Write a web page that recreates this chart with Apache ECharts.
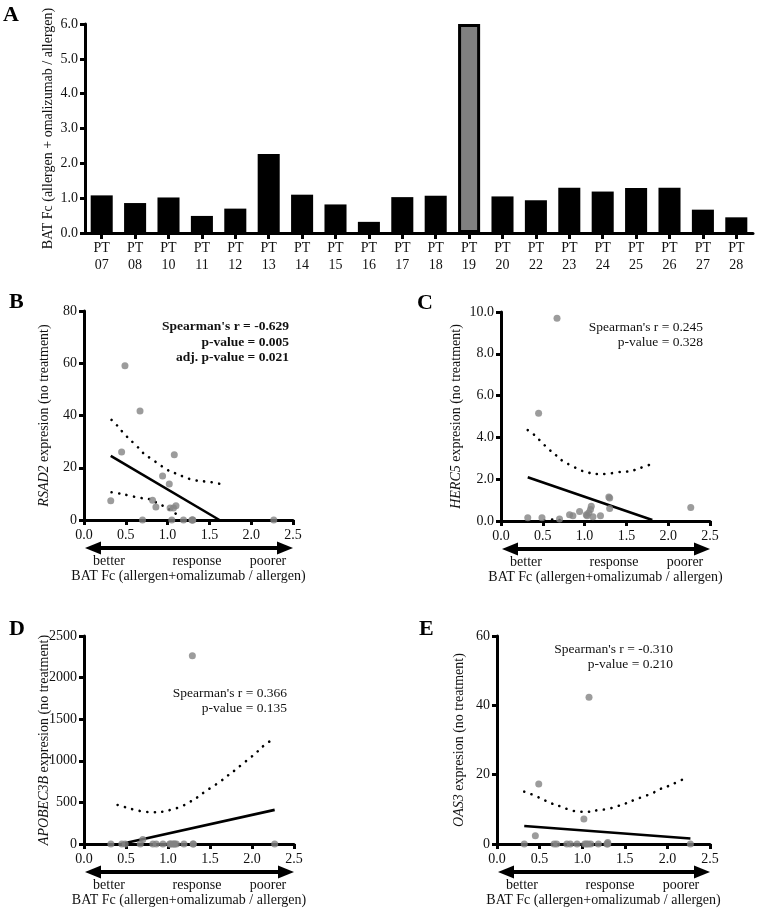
<!DOCTYPE html>
<html>
<head>
<meta charset="utf-8">
<script src="https://cdn.jsdelivr.net/npm/echarts@6/dist/echarts.min.js"></script>
<style>
html,body{margin:0;padding:0;background:#fff;}
#chart{width:759px;height:908px;}
</style>
</head>
<body>
<div id="chart"></div>
<script>
// ---------- DATA ----------
const patients = ['PT\n07','PT\n08','PT\n10','PT\n11','PT\n12','PT\n13','PT\n14','PT\n15','PT\n16','PT\n17','PT\n18','PT\n19','PT\n20','PT\n22','PT\n23','PT\n24','PT\n25','PT\n26','PT\n27','PT\n28'];
const batFc = [1.08,0.86,1.02,0.49,0.70,2.27,1.10,0.82,0.32,1.03,1.07,6.0,1.05,0.94,1.30,1.19,1.29,1.30,0.67,0.45];
const highlightPatient = 'PT\n19';

// scatter x values (all patients except PT19), same order as the expression arrays
const scatterX = [1.08,0.86,1.02,0.49,0.70,2.27,1.10,0.82,0.32,1.03,1.07,1.05,0.94,1.30,1.19,1.29,1.30,0.67,0.45];
const rsad2    = [25,5,13.8,59,0,0,5.5,7.6,7.4,4.6,4.6,0,16.8,0,0,0,0,41.7,26];
const herc5    = [0.7,0.25,0.3,0.15,0.1,0.65,0.2,0.3,0.15,0.25,0.55,0.4,0.45,0.6,0.25,1.15,1.1,9.7,5.15];
const apobec3b = [0,0,0,0,55,0,0,0,0,0,0,0,0,0,0,2263,0,0,0];
const oas3     = [42.3,0,7.2,17.3,0,0,0,0,0,0,0,0,0,0.4,0,0,0,0,2.4];

// regression lines (fit endpoints as drawn, clipped at 0)
const fitB = [[0.32,24.5],[1.62,0]];
const fitC = [[0.32,2.09],[1.81,0.05]];
const fitD = [[0.44,0],[2.27,410]];
const fitE = [[0.32,5.2],[2.27,1.6]];

// 95% confidence bands (visible parts)
const bandBUpper = [[0.33,38.3],[0.41,35.7],[0.48,33],[0.64,28],[0.71,25.6],[0.81,23.3],[0.90,21.3],[0.985,19.4],[1.09,17.9],[1.19,16.6],[1.31,15.3],[1.52,14.5],[1.63,13.8]];
const bandBLower = [[0.33,10.6],[0.41,10.2],[0.55,9.3],[0.66,8.5],[0.77,8.1],[0.87,6.6],[0.965,5.1],[1.06,3.2],[1.165,1.0]];
const bandCUpper = [[0.32,4.35],[0.41,4.08],[0.49,3.75],[0.57,3.44],[0.66,3.14],[0.745,2.85],[0.845,2.65],[0.945,2.44],[1.05,2.31],[1.15,2.25],[1.26,2.25],[1.38,2.33],[1.50,2.36],[1.60,2.44],[1.71,2.6],[1.81,2.73]];
const bandCLower = [[0.52,0.02],[0.6,0.07],[0.7,0.05],[0.78,0.0]];
const bandDUpper = [[0.40,469],[0.51,437],[0.61,409],[0.72,389],[0.825,381],[0.94,389],[1.04,413],[1.155,449],[1.25,501],[1.35,561],[1.44,629],[1.53,689],[1.62,749],[1.71,821],[1.80,889],[1.885,961],[1.98,1037],[2.06,1106],[2.14,1182],[2.235,1250]];
const bandEUpper = [[0.32,15.1],[0.45,13.9],[0.55,12.7],[0.64,11.7],[0.75,10.8],[0.86,9.8],[0.97,9.3],[1.07,9.3],[1.19,9.8],[1.30,10.1],[1.40,10.8],[1.51,11.7],[1.61,12.7],[1.72,13.7],[1.82,14.6],[1.91,15.8],[2.01,16.7],[2.11,17.8],[2.21,19.0]];

const xTicks = {min:0, max:2.5, interval:0.5};
const annB = ["Spearman's r = -0.629", 'p-value = 0.005', 'adj. p-value = 0.021'];
const annC = ["Spearman's r = 0.245", 'p-value = 0.328'];
const annD = ["Spearman's r = 0.366", 'p-value = 0.135'];
const annE = ["Spearman's r = -0.310", 'p-value = 0.210'];

// ---------- LAYOUT / STYLE ----------
const FF = 'Liberation Serif, Times New Roman, serif';
const TXT = '#111';
const gridA = {left:85, top:24, width:668, height:209};
const gridB = {left:84, top:311, width:209, height:209};
const gridC = {left:501, top:312, width:209, height:209};
const gridD = {left:84, top:636, width:210, height:208};
const gridE = {left:497, top:636, width:213, height:208};
const scatterGrids = [gridB, gridC, gridD, gridE];

const axisLine = {show:true, lineStyle:{color:'#000', width:3}};
const axisTick = {show:true, length:5, lineStyle:{color:'#000', width:3}};

function xAxisScatter(gi){
  return {type:'value', gridIndex:gi, min:xTicks.min, max:xTicks.max, interval:xTicks.interval,
    axisLine, axisTick, splitLine:{show:false},
    axisLabel:{formatter:v=>v.toFixed(1), fontFamily:FF, fontSize:14, color:TXT, margin:8},
    name:'BAT Fc (allergen+omalizumab / allergen)', nameLocation:'middle', nameGap:49, nameMoveOverlap:false,
    nameTextStyle:{fontFamily:FF, fontSize:14, color:TXT}};
}
function yAxisScatter(gi, min, max, interval, gene, gap, fmt){
  return {type:'value', gridIndex:gi, min, max, interval, axisLine, axisTick, splitLine:{show:false},
    axisLabel:{formatter:fmt, fontFamily:FF, fontSize:14, color:TXT, margin:7},
    name:'{i|'+gene+'} expresion (no treatment)', nameLocation:'middle', nameRotate:90, nameGap:gap, nameMoveOverlap:false,
    nameTextStyle:{fontFamily:FF, fontSize:14, color:TXT, rich:{i:{fontStyle:'italic', fontFamily:FF, fontSize:14, color:TXT}}}};
}
const pts = ys => scatterX.map((x,i)=>[x, ys[i]]);
function scatterSeries(gi, ys){
  return {type:'scatter', xAxisIndex:gi, yAxisIndex:gi, data:pts(ys), symbolSize:7,
    itemStyle:{color:'#838383'}, z:5};
}
function fitSeries(gi, d){
  return {type:'line', xAxisIndex:gi, yAxisIndex:gi, data:d, showSymbol:false, symbol:'none',
    lineStyle:{color:'#000', width:2.6}, z:3};
}
function bandSeries(gi, d){
  return {type:'line', xAxisIndex:gi, yAxisIndex:gi, data:d, showSymbol:false, symbol:'none', smooth:0.4,
    lineStyle:{color:'#000', width:2.6, type:[0.1,7.5], cap:'round'}, z:3};
}

// ---------- GRAPHICS (labels, arrows, annotations) ----------
const graphic = [];
function letter(t, x, y){
  graphic.push({type:'text', left:x, top:y, style:{text:t, font:'bold 22px '+FF, fill:'#000'}});
}
letter('A', 3, 4); letter('B', 9, 291); letter('C', 417, 292); letter('D', 9, 618); letter('E', 419, 618);

function annotation(lines, right, yFirst, bold){
  lines.forEach((t,i)=>{
    graphic.push({type:'text', x:right, y:yFirst + i*15.5,
      style:{text:t, font:(bold?'bold ':'')+'13.5px '+FF, fill:'#111', textAlign:'right', textVerticalAlign:'middle'}});
  });
}
annotation(annB, 289, 327, true);
annotation(annC, 703, 327, false);
annotation(annD, 287, 693, false);
annotation(annE, 673, 649, false);

scatterGrids.forEach(g=>{
  const L = g.left, R = g.left + g.width, y = g.top + g.height + 28;
  graphic.push({type:'rect', shape:{x:L+12, y:y-2, width:(R-L)-24, height:4}, style:{fill:'#000'}});
  graphic.push({type:'polygon', shape:{points:[[L+1,y],[L+17,y-6.5],[L+17,y+6.5]]}, style:{fill:'#000'}});
  graphic.push({type:'polygon', shape:{points:[[R,y],[R-16,y-6.5],[R-16,y+6.5]]}, style:{fill:'#000'}});
  const ly = g.top + g.height + 41;
  [['better',25],['response',113],['poorer',184]].forEach(([t,dx])=>{
    graphic.push({type:'text', x:L+dx, y:ly, style:{text:t, font:'14px '+FF, fill:TXT, textAlign:'center', textVerticalAlign:'middle'}});
  });
});

// ---------- OPTION ----------
const option = {
  backgroundColor:'#fff',
  animation:false,
  grid:[gridA, gridB, gridC, gridD, gridE].map(g=>Object.assign({containLabel:false}, g)),
  xAxis:[
    {type:'category', gridIndex:0, data:patients, axisLine, 
     axisTick:{show:true, alignWithLabel:true, length:6, lineStyle:{color:'#000', width:3}},
     axisLabel:{fontFamily:FF, fontSize:14, color:TXT, lineHeight:17, margin:7, interval:0}},
    xAxisScatter(1), xAxisScatter(2), xAxisScatter(3), xAxisScatter(4)
  ],
  yAxis:[
    {type:'value', gridIndex:0, min:0, max:6, interval:1, axisLine, axisTick, splitLine:{show:false},
     axisLabel:{formatter:v=>v.toFixed(1), fontFamily:FF, fontSize:14, color:TXT, margin:7},
     name:'BAT Fc (allergen + omalizumab / allergen)', nameLocation:'middle', nameRotate:90, nameGap:30, nameMoveOverlap:false,
     nameTextStyle:{fontFamily:FF, fontSize:14, color:TXT}},
    yAxisScatter(1, 0, 80, 20, 'RSAD2', 33, v=>String(v)),
    yAxisScatter(2, 0, 10, 2, 'HERC5', 38, v=>v.toFixed(1)),
    yAxisScatter(3, 0, 2500, 500, 'APOBEC3B', 33, v=>String(v)),
    yAxisScatter(4, 0, 60, 20, 'OAS3', 31, v=>String(v))
  ],
  series:[
    {type:'bar', xAxisIndex:0, yAxisIndex:0, barWidth:'66%',
     data:batFc.map((v,i)=> patients[i]===highlightPatient
        ? {value:v, itemStyle:{color:'#808080', borderColor:'#000', borderWidth:3}}
        : {value:v, itemStyle:{color:'#000'}})},
    bandSeries(1, bandBUpper), bandSeries(1, bandBLower), fitSeries(1, fitB), scatterSeries(1, rsad2),
    bandSeries(2, bandCUpper), bandSeries(2, bandCLower), fitSeries(2, fitC), scatterSeries(2, herc5),
    bandSeries(3, bandDUpper), fitSeries(3, fitD), scatterSeries(3, apobec3b),
    bandSeries(4, bandEUpper), fitSeries(4, fitE), scatterSeries(4, oas3)
  ],
  graphic:graphic
};
const chart = echarts.init(document.getElementById('chart'), null, {renderer:'canvas'});
chart.setOption(option);
</script>
</body>
</html>
